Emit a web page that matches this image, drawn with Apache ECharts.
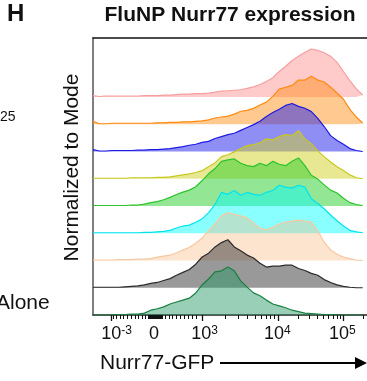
<!DOCTYPE html>
<html><head><meta charset="utf-8">
<script src="https://cdn.jsdelivr.net/npm/echarts@6/dist/echarts.min.js"></script>
<style>html,body{margin:0;padding:0;background:#fff}#c{width:367px;height:381px}</style>
</head><body><div id="c"></div>
<script>
// display channel bins (0..1024 display scale)
const bins = [0,24,48,72,96,120,144,168,192,216,240,264,288,312,336,360,384,408,432,456,480,504,528,552,576,600,624,648,672,696,720,744,768,792,816,840,864,888,912,936,960,984,1008];
const seriesNames = ['Sample 1','Sample 2','Sample 3','Sample 4','Sample 5','Sample 6','Sample 7','Sample 8','Sample 9'];
// % of mode, top row to bottom row
const pink      = [3,1,2,2,2,2,2,2,3,3,3,4,4,5,6,6,7,7,8,10,12,13,14,15,18,21,26,32,40,53,64,76,85,93,100,97,92,85,72,53,34,17,4];
const orange    = [6,1,1,2,2,2,2,2,2,2,3,3,4,4,5,5,6,7,9,13,15,17,21,27,29,33,40,46,58,73,77,81,92,92,100,92,88,77,65,52,31,15,2];
const blue      = [4,1,1,2,2,2,2,3,3,4,4,5,6,8,10,13,15,19,21,27,31,35,38,44,50,56,63,73,81,88,96,100,94,90,83,69,52,33,23,15,6,2,0];
const yellow    = [1,1,1,1,1,1,2,2,2,2,3,3,4,6,8,10,13,17,25,33,46,50,56,63,69,71,75,83,81,88,92,90,100,83,73,58,46,35,25,17,8,2,0];
const green     = [1,1,1,1,1,1,2,2,4,7,9,13,18,24,29,33,40,53,67,78,93,96,98,89,84,82,89,84,93,87,84,93,100,84,64,56,44,33,27,16,7,3,1];
const cyan      = [1,1,1,1,1,1,1,1,2,2,3,4,6,11,15,17,23,30,43,60,85,81,89,79,85,81,79,85,89,100,96,94,100,96,72,62,51,38,26,15,6,3,1];
const peach     = [1,1,1,1,2,2,2,3,3,4,7,9,11,16,22,27,36,47,62,76,93,100,96,93,89,78,67,64,69,76,80,82,84,82,80,62,38,22,13,7,4,1,0];
const gray      = [1,1,1,1,1,2,3,4,6,9,11,15,19,26,32,38,49,64,72,85,94,100,85,77,68,62,51,43,45,45,47,47,40,36,30,26,17,11,6,3,1,0,0];
const darkGreen = [0,0,0,0,1,1,2,2,4,10,13,17,23,27,31,35,46,63,75,90,92,100,92,71,58,46,40,31,23,19,15,10,7,4,3,2,1,1,0,0,0,0,0];

// axis ticks / labels (display channel)
const tickLabelPos  = [88,228,417,689,932];
const tickLabelBase = ['10','0','10','10','10'];
const tickLabelExp  = ['-3','','3','4','5'];
const majorTicks = [67,407,691,934];
const minorTicks = [75,86,101,112,127,142,157,168,183,194,
  206,210,213,217,221,224,228,232,236,239,243,247,251,254,258,
  269,284,295,310,325,340,355,370,385,
  493,542,576,605,628,647,661,676,
  766,807,837,860,878,897,912,923,1009];

const FONT = '"Liberation Sans", Arial, Helvetica, sans-serif';
const ROW_STEP = 0.5677;
const rows = [pink, orange, blue, yellow, green, cyan, peach, gray, darkGreen];
const lineColors = ['#f5a0a0','#ff8a10','#1c1ce0','#c8c81e','#2cc22c','#00e4ee','#f6c8a2','#2a2a2a','#1a7f42'];
const fillColors = ['rgba(255,150,150,0.5)','rgba(255,140,20,0.47)','rgba(30,30,235,0.5)','rgba(210,210,40,0.5)','rgba(40,205,40,0.5)','rgba(0,255,255,0.46)','rgba(250,185,130,0.38)','rgba(60,60,60,0.52)','rgba(30,150,95,0.46)'];

const series = rows.map((vals, i) => {
  const off = (rows.length - 1 - i) * ROW_STEP;
  return {
    type: 'line', name: seriesNames[i], xAxisIndex: 0, yAxisIndex: 0,
    data: bins.map((x, j) => [x, off + vals[j] / 100]),
    symbol: 'none', smooth: false, animation: false,
    lineStyle: { color: lineColors[i], width: 1.2 },
    areaStyle: { color: fillColors[i], origin: off, opacity: 1 }
  };
});

const chart = echarts.init(document.getElementById('c'), null, { renderer: 'canvas' });
chart.setOption({
  backgroundColor: '#fff',
  animation: false,
  grid: { left: 93, right: 0, top: 38, bottom: 66 },
  xAxis: [
    { type: 'value', position: 'bottom', min: 0, max: 1024,
      axisLine: { show: true, lineStyle: { color: '#222', width: 1.5 } },
      axisTick: { show: true, customValues: majorTicks, length: 6, lineStyle: { color: '#111', width: 1.3 } },
      axisLabel: { show: true, customValues: tickLabelPos, margin: 10, color: '#111', fontFamily: FONT,
        formatter: function (v) {
          let k = 0, best = 1e9;
          tickLabelPos.forEach((p, idx) => { if (Math.abs(p - v) < best) { best = Math.abs(p - v); k = idx; } });
          return tickLabelExp[k] ? '{b|' + tickLabelBase[k] + '}{s|' + tickLabelExp[k] + '}' : '{b|' + tickLabelBase[k] + '}';
        },
        rich: {
          b: { fontSize: 18, fontFamily: FONT, color: '#111' },
          s: { fontSize: 12, fontFamily: FONT, color: '#111', verticalAlign: 'top' }
        } },
      splitLine: { show: false } },
    { type: 'value', position: 'bottom', min: 0, max: 1024,
      axisLine: { show: false },
      axisTick: { show: true, customValues: minorTicks, length: 4, lineStyle: { color: '#111', width: 1 } },
      axisLabel: { show: false }, splitLine: { show: false } },
    { type: 'value', position: 'top', min: 0, max: 1024,
      axisLine: { show: true, lineStyle: { color: '#111', width: 1.5 } },
      axisTick: { show: false }, axisLabel: { show: false }, splitLine: { show: false } }
  ],
  yAxis: [{ type: 'value', min: 0, max: 5.77,
    axisLine: { show: true, lineStyle: { color: '#555', width: 1.5 } },
    axisTick: { show: false }, axisLabel: { show: false }, splitLine: { show: false } }],
  series: series,
  graphic: [
    { type: 'text', left: 7, top: 2, style: { text: 'H', font: 'bold 24px ' + FONT, fill: '#111' } },
    { type: 'text', x: 230, y: 15, style: { text: 'FluNP Nurr77 expression', font: 'bold 21px ' + FONT, fill: '#111', align: 'center', verticalAlign: 'middle' } },
    { type: 'text', x: 0, y: 117, style: { text: '25', font: '14px ' + FONT, fill: '#111', align: 'left', verticalAlign: 'middle' } },
    { type: 'text', x: -4, y: 303, style: { text: 'Alone', font: '21px ' + FONT, fill: '#111', align: 'left', verticalAlign: 'middle' } },
    { type: 'text', x: 72, y: 167.5, rotation: Math.PI / 2, style: { text: 'Normalized to Mode', font: '21px ' + FONT, fill: '#111', align: 'center', verticalAlign: 'middle' } },
    { type: 'text', x: 100, y: 363, style: { text: 'Nurr77-GFP', font: '21px ' + FONT, fill: '#111', align: 'left', verticalAlign: 'middle' } },
    { type: 'line', shape: { x1: 220, y1: 363, x2: 357, y2: 363 }, style: { stroke: '#000', lineWidth: 2 } },
    { type: 'polygon', shape: { points: [[355, 357], [367, 363], [355, 369]] }, style: { fill: '#000' } }
  ]
});
</script>
</body></html>
